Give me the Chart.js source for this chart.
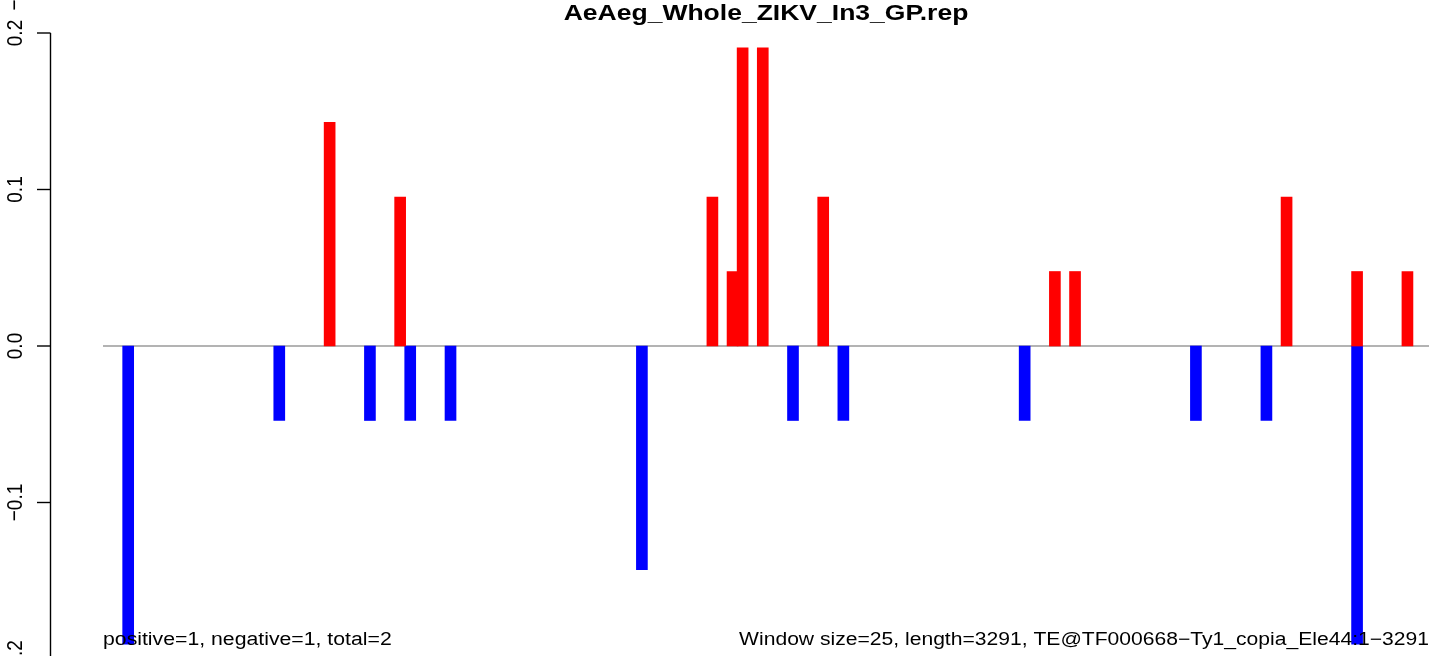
<!DOCTYPE html>
<html>
<head>
<meta charset="utf-8">
<script src="https://cdn.jsdelivr.net/npm/chart.js@4.4.1/dist/chart.umd.min.js"></script>
<style>
  html, body { margin:0; padding:0; width:1429px; height:656px; overflow:hidden; background:#fff; }
  #wrap { position:relative; width:1429px; height:700px; }
  canvas { display:block; }
</style>
</head>
<body>
<div id="wrap"><canvas id="c" width="1429" height="700"></canvas></div>
<script>
// ---- data ----
const chartTitle = "AeAeg_Whole_ZIKV_In3_GP.rep";
const windowSize = 25;
const seqLength = 3291;
const posWindows = [22, 29, 60, 62, 63, 65, 71, 94, 96, 117, 124, 129];
const posValues  = [0.1429, 0.0952, 0.0952, 0.0476, 0.1905, 0.1905, 0.0952, 0.0476, 0.0476, 0.0952, 0.0476, 0.0476];
const negWindows = [2, 17, 26, 30, 34, 53, 68, 73, 91, 108, 115, 124];
const negValues  = [-0.1905, -0.0476, -0.0476, -0.0476, -0.0476, -0.1429, -0.0476, -0.0476, -0.0476, -0.0476, -0.0476, -0.1905];
const yTicks = [-0.2, -0.1, 0.0, 0.1, 0.2];
const leftNote = "positive=1, negative=1, total=2";
const rightNote = "Window size=25, length=3291, TE@TF000668\u2212Ty1_copia_Ele44:1\u22123291";

const FONT = '"Liberation Sans", Arial, Helvetica, sans-serif';

function toPoints(ws, vs) {
  return ws.map((w, i) => ({ x: w * windowSize + windowSize / 2, y: vs[i] }));
}
function fmt(v) {
  return v.toFixed(1).replace('-', '\u2212');
}
function stretchedText(ctx, txt, x, y, align, font, sx) {
  ctx.save();
  ctx.translate(x, y);
  ctx.scale(sx, 1);
  ctx.font = font;
  ctx.textAlign = align;
  ctx.textBaseline = 'alphabetic';
  ctx.fillStyle = '#000';
  ctx.fillText(txt, 0, 0);
  ctx.restore();
}
function rotatedText(ctx, txt, x, y, font, sx) {
  ctx.save();
  ctx.translate(x, y);
  ctx.scale(sx, 1);
  ctx.rotate(-Math.PI / 2);
  ctx.font = font;
  ctx.textAlign = 'center';
  ctx.textBaseline = 'alphabetic';
  ctx.fillStyle = '#000';
  ctx.fillText(txt, 0, 0);
  ctx.restore();
}

const decor = {
  id: 'decor',
  beforeDatasetsDraw(chart) {
    const ctx = chart.ctx, y = chart.scales.y, a = chart.chartArea;
    const y0 = y.getPixelForValue(0);
    ctx.save();
    ctx.strokeStyle = '#9a9a9a';
    ctx.lineWidth = 1.5;
    ctx.beginPath();
    ctx.moveTo(a.left, y0);
    ctx.lineTo(chart.width, y0);
    ctx.stroke();
    ctx.restore();
  },
  afterDraw(chart) {
    const ctx = chart.ctx, y = chart.scales.y;
    const axX = 50.5;
    ctx.save();
    ctx.strokeStyle = '#000';
    ctx.lineWidth = 1.4;
    ctx.beginPath();
    ctx.moveTo(axX, y.getPixelForValue(yTicks[yTicks.length - 1]));
    ctx.lineTo(axX, chart.height);
    ctx.stroke();
    yTicks.forEach(t => {
      const py = y.getPixelForValue(t);
      ctx.beginPath();
      ctx.moveTo(37, py);
      ctx.lineTo(axX, py);
      ctx.stroke();
      rotatedText(ctx, fmt(t), 22, py, '19px ' + FONT, 1.2);
    });
    ctx.restore();
    // clipped fragment at the top-left corner
    rotatedText(ctx, '\u2212', 22, 5, '19px ' + FONT, 1.2);
    // title
    stretchedText(ctx, chartTitle, (chart.chartArea.left + chart.width) / 2, 20, 'center', 'bold 22px ' + FONT, 1.205);
    // bottom notes
    stretchedText(ctx, leftNote, chart.chartArea.left, 645, 'left', '18px ' + FONT, 1.18);
    stretchedText(ctx, rightNote, chart.width, 645, 'right', '18px ' + FONT, 1.172);
  }
};

new Chart(document.getElementById('c'), {
  type: 'bar',
  data: {
    datasets: [
      { label: 'positive', data: toPoints(posWindows, posValues), backgroundColor: '#FF0000', borderWidth: 0, grouped: false, barThickness: 11 },
      { label: 'negative', data: toPoints(negWindows, negValues), backgroundColor: '#0000FF', borderWidth: 0, grouped: false, barThickness: 11 }
    ]
  },
  options: {
    responsive: false,
    animation: false,
    devicePixelRatio: 1,
    layout: { padding: { left: 103, right: 0, top: 33, bottom: 41 } },
    scales: {
      x: { type: 'linear', min: 0, max: seqLength, display: false, offset: false, grid: { display: false } },
      y: { min: -0.2, max: 0.2, display: false, grid: { display: false } }
    },
    plugins: { legend: { display: false }, tooltip: { enabled: false } }
  },
  plugins: [decor]
});
</script>
</body>
</html>
